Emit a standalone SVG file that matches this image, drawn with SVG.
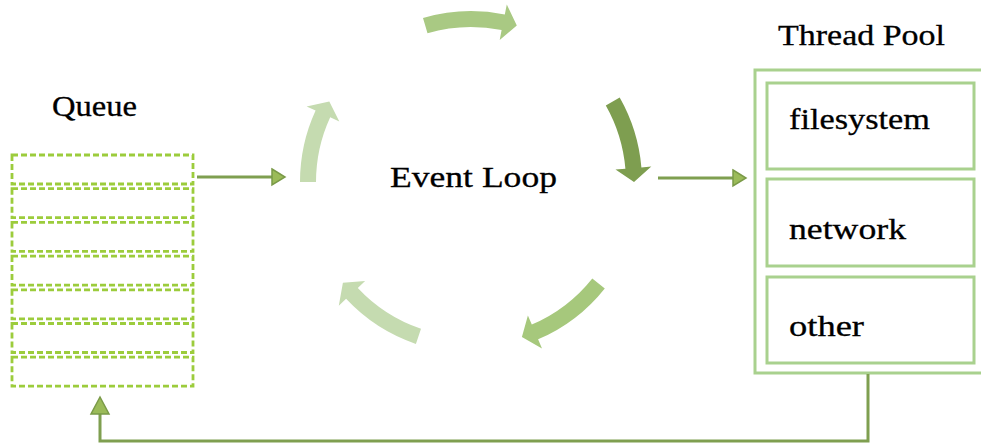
<svg xmlns="http://www.w3.org/2000/svg" width="981" height="447" viewBox="0 0 981 447">
  <style>
    .label { font-family: "Liberation Serif", "Times New Roman", serif; font-size: 30px; fill: #000; stroke: #000; stroke-width: 0.3; }
    .slot { fill: none; stroke: #9ccc3c; stroke-width: 2.8; stroke-dasharray: 6 3; }
    .pool { fill: #fff; stroke: #a9d18e; stroke-width: 3; }
    .link { fill: none; stroke: #7f9f50; stroke-width: 3; }
    .head { fill: #9bbb59; stroke: #7a9a48; stroke-width: 1.5; stroke-linejoin: miter; }
  </style>

  <!-- Queue of pending callbacks -->
  <g id="queue">
    <text class="label" x="52" y="116" textLength="85" lengthAdjust="spacingAndGlyphs">Queue</text>
    <rect class="slot" x="12" y="155" width="181" height="29"/>
    <rect class="slot" x="12" y="188.7" width="181" height="29"/>
    <rect class="slot" x="12" y="222.4" width="181" height="29"/>
    <rect class="slot" x="12" y="256.1" width="181" height="29"/>
    <rect class="slot" x="12" y="289.8" width="181" height="29"/>
    <rect class="slot" x="12" y="323.5" width="181" height="29"/>
    <rect class="slot" x="12" y="357.2" width="181" height="29"/>
  </g>

  <!-- Event loop: five curved arrows around a common centre (471,182) -->
  <g id="event-loop">
    <path fill="#a9c983" d="M423.0,17.9 A171,171 0 0 1 504.8,14.4 L506.8,4.6 L516.8,25.6 L499.7,39.9 L501.6,30.1 A155,155 0 0 0 427.5,33.2 Z"/>
    <path fill="#7e9e50" d="M619.7,97.5 A171,171 0 0 1 641.4,167.4 L651.3,166.5 L634,182 L615.5,169.6 L625.4,168.8 A155,155 0 0 0 605.8,105.4 Z"/>
    <path fill="#a6c87c" d="M604.8,288.4 A171,171 0 0 1 538.1,339.3 L542.0,348.5 L521.9,336.9 L527.9,315.4 L531.8,324.6 A155,155 0 0 0 592.3,278.5 Z"/>
    <path fill="#c5dbb0" d="M415.9,343.9 A171,171 0 0 1 346.1,298.8 L338.8,305.7 L342.9,282.8 L365.1,281.1 L357.8,287.9 A155,155 0 0 0 421.0,328.7 Z"/>
    <path fill="#c5dbb0" d="M300,182 A171,171 0 0 1 315.6,110.5 L306.6,106.4 L329.3,101.5 L339.3,121.4 L330.2,117.2 A155,155 0 0 0 316,182 Z"/>
    <text class="label" x="390" y="187" textLength="167" lengthAdjust="spacingAndGlyphs">Event Loop</text>
  </g>

  <!-- Thread pool with its workers -->
  <g id="thread-pool">
    <text class="label" x="778" y="45" textLength="167" lengthAdjust="spacingAndGlyphs">Thread Pool</text>
    <rect class="pool" x="755" y="70" width="240" height="303"/>
  </g>
  <g id="filesystem">
    <rect class="pool" x="767" y="83" width="207" height="86"/>
    <text class="label" x="789" y="129" textLength="141" lengthAdjust="spacingAndGlyphs">filesystem</text>
  </g>
  <g id="network">
    <rect class="pool" x="767" y="179" width="207" height="87"/>
    <text class="label" x="789" y="239" textLength="117" lengthAdjust="spacingAndGlyphs">network</text>
  </g>
  <g id="other">
    <rect class="pool" x="767" y="277" width="207" height="86"/>
    <text class="label" x="789" y="336" textLength="75" lengthAdjust="spacingAndGlyphs">other</text>
  </g>

  <!-- Connectors -->
  <g id="connectors">
    <line class="link" x1="197" y1="177" x2="273" y2="177"/>
    <polygon class="head" points="272,169 285,177 272,185"/>
    <line class="link" x1="658" y1="178" x2="734" y2="178"/>
    <polygon class="head" points="733,170 746,178 733,186"/>
    <path class="link" stroke-width="4.5" d="M868,374 V441 H100 V414"/>
    <polygon class="head" fill="#a9d18e" points="100,397 91,414 109,414"/>
  </g>
</svg>
